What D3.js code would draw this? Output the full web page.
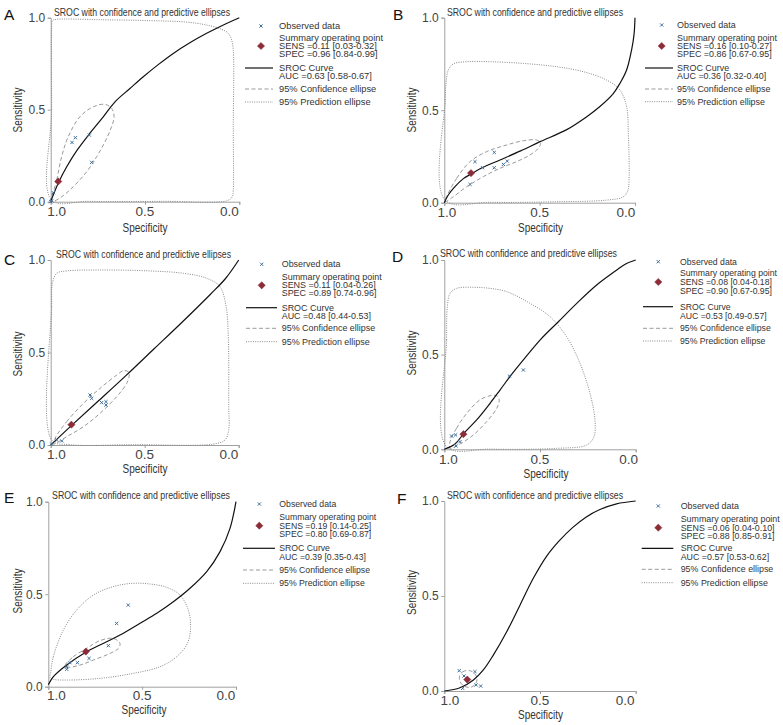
<!DOCTYPE html>
<html><head><meta charset="utf-8">
<script src="https://cdn.jsdelivr.net/npm/d3@7"></script>
<style>
body{margin:0;background:#fff}
svg{display:block}
text{font-family:"Liberation Sans",Arial,Helvetica,sans-serif}
</style>
</head><body>
<svg id="c" width="783" height="725"></svg>
<script>
// ---------------- DATA ----------------
const panelLabels = ["A","B","C","D","E","F"];
const tickValues = [1.0, 0.5, 0.0];
const tickLabels = ["1.0","0.5","0.0"];
const chartTitle = "SROC with confidence and predictive ellipses";
const xTitle = "Specificity";
const yTitle = "Sensitivity";
const legendNames = ["Observed data","Summary operating point","SROC Curve","95% Confidence ellipse","95% Prediction ellipse"];
const sensText = ["SENS =0.11 [0.03-0.32]","SENS =0.16 [0.10-0.27]","SENS =0.11 [0.04-0.26]","SENS =0.08 [0.04-0.18]","SENS =0.19 [0.14-0.25]","SENS =0.06 [0.04-0.10]"];
const specText = ["SPEC =0.96 [0.84-0.99]","SPEC =0.86 [0.67-0.95]","SPEC =0.89 [0.74-0.96]","SPEC =0.90 [0.67-0.95]","SPEC =0.80 [0.69-0.87]","SPEC =0.88 [0.85-0.91]"];
const aucText = ["AUC =0.63 [0.58-0.67]","AUC =0.36 [0.32-0.40]","AUC =0.48 [0.44-0.53]","AUC =0.53 [0.49-0.57]","AUC =0.39 [0.35-0.43]","AUC =0.57 [0.53-0.62]"];
const summarySpec = [0.96,0.86,0.89,0.90,0.80,0.88];
const summarySens = [0.11,0.16,0.11,0.08,0.19,0.06];

// [specificity, sensitivity]
const observedA = [[1.0,0.0],[0.995,0.005],[0.986,0.049],[0.887,0.322],[0.869,0.348],[0.795,0.362],[0.783,0.214]];
const observedB = [[0.865,0.099],[0.839,0.222],[0.799,0.189],[0.738,0.272],[0.738,0.189],[0.69,0.207],[0.67,0.225]];
const observedC = [[0.995,0.005],[0.968,0.027],[0.941,0.022],[0.791,0.27],[0.782,0.252],[0.729,0.229],[0.706,0.234],[0.706,0.216]];
const observedD = [[0.962,0.07],[0.941,0.076],[0.918,0.04],[0.939,0.018],[0.66,0.387],[0.587,0.419]];
const observedE = [[0.902,0.094],[0.902,0.108],[0.885,0.13],[0.845,0.13],[0.783,0.153],[0.68,0.222],[0.636,0.342],[0.574,0.441]];
const observedF = [[0.922,0.107],[0.897,0.079],[0.84,0.102],[0.904,0.014],[0.834,0.032],[0.81,0.026]];

const srocA = [[1,0],[0.985,0.04],[0.956,0.11],[0.915,0.19],[0.86,0.28],[0.80,0.362],[0.73,0.45],[0.659,0.543],[0.58,0.615],[0.509,0.679],[0.43,0.745],[0.35,0.806],[0.26,0.865],[0.173,0.915],[0.09,0.958],[0,1]];
const srocB = [[1,0],[0.98,0.04],[0.95,0.08],[0.90,0.13],[0.86,0.155],[0.80,0.19],[0.708,0.231],[0.60,0.28],[0.498,0.33],[0.358,0.395],[0.253,0.465],[0.184,0.52],[0.114,0.59],[0.079,0.645],[0.044,0.717],[0.018,0.825],[0.005,0.91],[0,1]];
const srocC = [[1,0],[0.89,0.105],[0.75,0.235],[0.6,0.375],[0.45,0.52],[0.3,0.665],[0.15,0.815],[0.07,0.9],[0,1]];
const srocD = [[1,0],[0.944,0.028],[0.897,0.085],[0.831,0.155],[0.761,0.243],[0.709,0.313],[0.657,0.384],[0.587,0.472],[0.5,0.577],[0.404,0.674],[0.308,0.771],[0.204,0.868],[0.099,0.947],[0.05,0.98],[0,1]];
const srocE = [[1,0.01],[0.973,0.054],[0.902,0.117],[0.796,0.189],[0.689,0.243],[0.618,0.279],[0.511,0.343],[0.422,0.397],[0.334,0.459],[0.245,0.532],[0.156,0.622],[0.085,0.73],[0.032,0.856],[0,1]];
const srocF = [[1,0],[0.918,0.017],[0.848,0.058],[0.796,0.111],[0.744,0.189],[0.674,0.312],[0.604,0.453],[0.535,0.593],[0.465,0.71],[0.40,0.79],[0.33,0.86],[0.26,0.915],[0.187,0.955],[0.1,0.985],[0,1]];

const confA = [[0.995,0.005],[0.968,0.118],[0.942,0.245],[0.907,0.353],[0.845,0.462],[0.774,0.516],[0.712,0.529],[0.677,0.507],[0.664,0.462],[0.677,0.408],[0.712,0.326],[0.756,0.245],[0.809,0.163],[0.880,0.082],[0.942,0.027],[0.986,0.002]];
const confB = [[0.988,0.032],[0.935,0.132],[0.865,0.222],[0.778,0.276],[0.673,0.312],[0.586,0.335],[0.516,0.339],[0.495,0.324],[0.507,0.294],[0.551,0.258],[0.621,0.222],[0.708,0.186],[0.795,0.141],[0.883,0.086],[0.953,0.032],[0.996,0.005]];
const confC = [[0.977,0.036],[0.915,0.126],[0.826,0.225],[0.738,0.306],[0.649,0.378],[0.613,0.402],[0.587,0.396],[0.582,0.378],[0.596,0.333],[0.649,0.261],[0.738,0.171],[0.826,0.099],[0.915,0.045],[0.986,0.005]];
const confD = [[0.97,0.04],[0.936,0.111],[0.883,0.19],[0.814,0.261],[0.761,0.283],[0.726,0.283],[0.713,0.261],[0.726,0.217],[0.779,0.146],[0.848,0.076],[0.918,0.028],[0.97,0.004]];
const confE = [[0.911,0.112],[0.867,0.162],[0.796,0.207],[0.725,0.249],[0.654,0.261],[0.618,0.234],[0.627,0.207],[0.671,0.18],[0.76,0.144],[0.831,0.117],[0.893,0.105]];
const confF = [[0.92,0.08],[0.905,0.1],[0.88,0.108],[0.85,0.1],[0.83,0.07],[0.835,0.04],[0.86,0.02],[0.895,0.025],[0.918,0.05]];

const predA = [[0.995,0.009],[0.995,0.5],[0.995,0.951],[0.991,0.984],[0.968,0.991],[0.739,0.989],[0.473,0.984],[0.279,0.976],[0.173,0.960],[0.094,0.937],[0.058,0.915],[0.041,0.879],[0.032,0.824],[0.032,0.4],[0.032,0.063],[0.037,0.027],[0.067,0.005],[0.4,0.002],[0.8,0.002]];
const predB = [[0.996,0.014],[0.995,0.555],[0.991,0.645],[0.979,0.717],[0.953,0.75],[0.883,0.762],[0.76,0.762],[0.586,0.753],[0.411,0.735],[0.271,0.708],[0.149,0.663],[0.079,0.609],[0.044,0.519],[0.035,0.375],[0.031,0.123],[0.037,0.068],[0.061,0.032],[0.149,0.014],[0.411,0.005],[0.76,0.002]];
const predC = [[0.995,0.027],[0.995,0.748],[0.991,0.874],[0.968,0.928],[0.915,0.941],[0.738,0.946],[0.472,0.941],[0.294,0.928],[0.17,0.901],[0.1,0.856],[0.067,0.748],[0.055,0.568],[0.053,0.207],[0.053,0.081],[0.073,0.027],[0.135,0.005],[0.56,0.002],[0.9,0.002]];
const predD = [[0.988,0.014],[0.988,0.577],[0.984,0.754],[0.97,0.824],[0.936,0.85],[0.848,0.856],[0.761,0.85],[0.674,0.833],[0.552,0.771],[0.448,0.701],[0.361,0.595],[0.291,0.454],[0.239,0.296],[0.213,0.155],[0.218,0.067],[0.256,0.023],[0.413,0.005],[0.761,0.001]];
const predE = [[0.988,0.072],[0.973,0.162],[0.92,0.306],[0.849,0.414],[0.76,0.495],[0.654,0.541],[0.547,0.559],[0.458,0.555],[0.369,0.537],[0.298,0.495],[0.254,0.414],[0.242,0.324],[0.259,0.234],[0.316,0.162],[0.405,0.108],[0.547,0.072],[0.725,0.045],[0.902,0.036],[0.973,0.04],[0.991,0.05]];
const predF = [];

const observed = [observedA,observedB,observedC,observedD,observedE,observedF];
const sroc = [srocA,srocB,srocC,srocD,srocE,srocF];
const conf = [confA,confB,confC,confD,confE,confF];
const pred = [predA,predB,predC,predD,predE,predF];

// ---------------- LAYOUT ----------------
const layout = [
  {x0:50.7,x1:239.3,yT:17.7,yB:201.7, lab:[4,20], ti:[54,16,176], xt:[145,232], yt:[21.5,110], xl:14.5, xo:[6,0,-10],
   leg:{mx:261,tx:279,lx0:245,lx1:273,rows:[26,38,46,54,68,76,89,102],w:104}},
  {x0:444.3,x1:635,yT:17.7,yB:202.7, lab:[393,20], ti:[447,16,176], xt:[540.5,232], yt:[415.5,110], xl:14.5, xo:[2.5,0,-9],
   leg:{mx:661.7,tx:677,lx0:645,lx1:673,rows:[25,37.7,46,54,68,76,89,101.7],w:100}},
  {x0:50.7,x1:238.7,yT:260,yB:445, lab:[4,265], ti:[56,258,175], xt:[145,472.5], yt:[21.5,354], xl:14.3, xo:[5.7,0,-9.7],
   leg:{mx:261.7,tx:281.7,lx0:246,lx1:277,rows:[264.3,277.3,285.3,293.3,307.7,315.7,328.3,341.7],w:100}},
  {x0:444.3,x1:635.7,yT:260,yB:449.3, lab:[392,262], ti:[440,257,177], xt:[546,478], yt:[415.5,353], xl:14.8, xo:[4,0,-7],
   leg:{mx:658.3,tx:680,lx0:643,lx1:673,rows:[261.7,273.3,282,291.3,306.7,315.7,328.3,341],w:97}},
  {x0:48.3,x1:236,yT:501.7,yB:686.7, lab:[4,503], ti:[52,499,178], xt:[144,713.5], yt:[21.5,591], xl:13, xo:[8,0,-10],
   leg:{mx:259.3,tx:279.3,lx0:243,lx1:275,rows:[504,517.3,525.7,534,548.3,557.3,570,583.3],w:97}},
  {x0:444.3,x1:635.7,yT:501,yB:691, lab:[397,504], ti:[447,499,176], xt:[540.5,718.5], yt:[415.5,592.5], xl:14, xo:[5.7,0,-10.5],
   leg:{mx:658.3,tx:680.7,lx0:641.7,lx1:673.3,rows:[506,519.3,527.7,536,548.3,557.3,569.3,582.7],w:99}}
];

const C_AXIS = "#a0a0a0", C_TEXT = "#333", C_TICK = "#444", C_OBS = "#3f6f9a", C_SUM = "#8c2c38",
      C_CONF = "#9a9a9a", C_PRED = "#8a8a8a";
const LEG_FS = 8.2;

const svg = d3.select("#c");

panelLabels.forEach((lbl, i) => {
  const L = layout[i];
  const g = svg.append("g");
  const x = d3.scaleLinear().domain([1,0]).range([L.x0, L.x1]);
  const y = d3.scaleLinear().domain([0,1]).range([L.yB, L.yT]);

  g.append("text").attr("x", L.lab[0]).attr("y", L.lab[1]).attr("font-size", 15.5)
    .attr("fill", "#111").text(lbl);
  g.append("text").attr("x", L.ti[0]).attr("y", L.ti[1]).attr("font-size", 11)
    .attr("textLength", L.ti[2]).attr("lengthAdjust","spacingAndGlyphs")
    .attr("fill", C_TEXT).text(chartTitle);

  const xa = d3.axisBottom(x).tickValues(tickValues).tickSize(3).tickFormat(() => "");
  const ya = d3.axisLeft(y).tickValues(tickValues).tickSize(3).tickFormat(() => "");
  const gx = g.append("g").attr("transform", `translate(0,${L.yB})`).call(xa);
  const gy = g.append("g").attr("transform", `translate(${L.x0},0)`).call(ya);
  [gx, gy].forEach(a => {
    a.select(".domain").attr("stroke", C_AXIS).attr("stroke-width", 1);
    a.selectAll(".tick line").attr("stroke", C_AXIS);
  });
  tickValues.forEach((v, k) => {
    g.append("text").attr("x", x(v) + L.xo[k]).attr("y", L.yB + L.xl)
      .attr("text-anchor","middle").attr("font-size", 13.5).attr("fill", C_TICK).text(tickLabels[k]);
  });
  tickValues.forEach((v, k) => {
    g.append("text").attr("x", L.x0 - 5.5).attr("y", y(v) + 4.3)
      .attr("text-anchor","end").attr("font-size", 12).attr("fill", C_TICK).text(tickLabels[k]);
  });
  g.append("text").attr("x", L.xt[0]).attr("y", L.xt[1]).attr("text-anchor","middle")
    .attr("font-size", 12.5).attr("textLength", 45).attr("lengthAdjust","spacingAndGlyphs")
    .attr("fill", C_TEXT).text(xTitle);
  g.append("text").attr("transform", `translate(${L.yt[0]},${L.yt[1]}) rotate(-90)`)
    .attr("text-anchor","middle").attr("font-size", 13).attr("textLength", 45)
    .attr("lengthAdjust","spacingAndGlyphs").attr("fill", C_TEXT).text(yTitle);

  const closed = d3.line().x(d => x(d[0])).y(d => y(d[1])).curve(d3.curveCatmullRomClosed.alpha(0.5));
  const open = d3.line().x(d => x(d[0])).y(d => y(d[1])).curve(d3.curveCatmullRom.alpha(0.5));

  if (pred[i].length) g.append("path").attr("d", closed(pred[i])).attr("fill","none")
      .attr("stroke", C_PRED).attr("stroke-width", 1).attr("stroke-dasharray","1,1.3");
  g.append("path").attr("d", closed(conf[i])).attr("fill","none")
      .attr("stroke", C_CONF).attr("stroke-width", 1).attr("stroke-dasharray","4,2.5");
  g.append("path").attr("d", open(sroc[i])).attr("fill","none")
      .attr("stroke", "#111").attr("stroke-width", 1.2);

  const sx = d3.symbol().type(d3.symbolX).size(8);
  g.selectAll(".obs").data(observed[i]).join("path")
    .attr("transform", d => `translate(${x(d[0])},${y(d[1])})`)
    .attr("d", sx()).attr("fill","none").attr("stroke", C_OBS).attr("stroke-width", 1);

  const sq = d3.symbol().type(d3.symbolSquare).size(26);
  g.append("path").attr("transform", `translate(${x(summarySpec[i])},${y(summarySens[i])}) rotate(45)`)
    .attr("d", sq()).attr("fill", C_SUM).attr("stroke", C_SUM).attr("stroke-width", 0.5);

  // legend
  const G = L.leg, R = G.rows;
  const texts = [];
  const t = (yy, s) => { const n = g.append("text").attr("x", G.tx).attr("y", yy).attr("dy","0.35em")
      .attr("font-size", LEG_FS).attr("fill", C_TEXT).text(s); texts.push(n); return n; };
  g.append("path").attr("transform", `translate(${G.mx},${R[0]})`).attr("d", sx())
    .attr("fill","none").attr("stroke", C_OBS).attr("stroke-width", 1);
  t(R[0], legendNames[0]);
  g.append("path").attr("transform", `translate(${G.mx},${R[2]}) rotate(45)`).attr("d", sq())
    .attr("fill", C_SUM).attr("stroke", C_SUM).attr("stroke-width", 0.5);
  const ref = t(R[1], legendNames[1]); t(R[2], sensText[i]); t(R[3], specText[i]);
  g.append("line").attr("x1", G.lx0).attr("x2", G.lx1).attr("y1", R[4]).attr("y2", R[4])
    .attr("stroke", "#111").attr("stroke-width", 1.2);
  t(R[4], legendNames[2]); t(R[5], aucText[i]);
  g.append("line").attr("x1", G.lx0).attr("x2", G.lx1).attr("y1", R[6]).attr("y2", R[6])
    .attr("stroke", C_CONF).attr("stroke-width", 1).attr("stroke-dasharray","4,2.5");
  t(R[6], legendNames[3]);
  g.append("line").attr("x1", G.lx0).attr("x2", G.lx1).attr("y1", R[7]).attr("y2", R[7])
    .attr("stroke", C_PRED).attr("stroke-width", 1).attr("stroke-dasharray","1,1.3");
  t(R[7], legendNames[4]);
  const k = G.w / ref.node().getComputedTextLength();
  texts.forEach(n => {
    const len = n.node().getComputedTextLength();
    n.attr("textLength", len * k).attr("lengthAdjust", "spacingAndGlyphs");
  });
});
</script>
</body></html>
